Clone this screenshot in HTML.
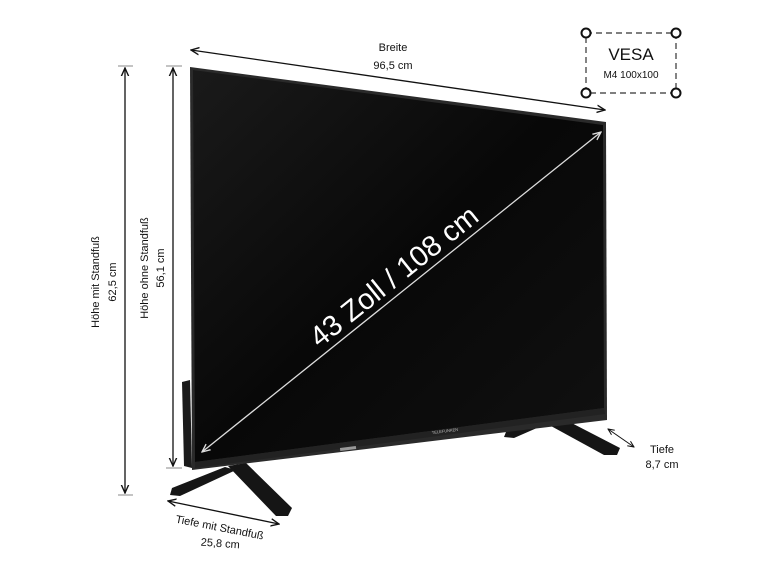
<!DOCTYPE html>
<html><head><meta charset="utf-8"><style>
html,body{margin:0;padding:0;background:#fff;width:772px;height:579px;overflow:hidden}
svg{display:block}
text{font-family:"Liberation Sans",sans-serif;fill:#111}
</style></head><body>
<svg width="772" height="579" viewBox="0 0 772 579" xmlns="http://www.w3.org/2000/svg">
<defs>
<marker id="a" viewBox="0 0 10 10" refX="9" refY="5" markerWidth="7" markerHeight="7" orient="auto-start-reverse"><path d="M0,1 L9,5 L0,9" fill="none" stroke="#111" stroke-width="1.5"/></marker>
<marker id="w" viewBox="0 0 10 10" refX="9" refY="5" markerWidth="7" markerHeight="7" orient="auto-start-reverse"><path d="M0,1 L9,5 L0,9" fill="none" stroke="#ddd" stroke-width="1.5"/></marker>
<linearGradient id="g" x1="0" y1="0" x2="1" y2="1"><stop offset="0" stop-color="#1a1a1a"/><stop offset="0.5" stop-color="#080808"/><stop offset="1" stop-color="#111"/></linearGradient>
</defs>
<!-- left back panel -->
<polygon points="182,382 190,380 192,468 184,466" fill="#1b1b1b"/>
<!-- stands -->
<polygon points="228,466 246,463 292,508 288,516 276,516" fill="#151515"/>
<polygon points="225,467 236,470 180,496 170,495 172,488" fill="#161616"/>
<polygon points="540,420 560,417 620,448 617,455 604,455" fill="#151515"/>
<polygon points="538,421 546,424 514,438 504,437 506,432" fill="#161616"/>
<!-- TV body -->
<polygon points="190,67 606,122 607,420 192,470" fill="#2a2a2a"/>
<polygon points="193,70 603,125 604,408 195,462" fill="url(#g)"/>
<polygon points="195,462 604,408 605,414 195,468" fill="#222"/>
<rect x="340" y="447" width="16" height="3" fill="#999" transform="rotate(-7 348 448)"/>
<text x="432" y="434" font-size="4" fill="#bbb" style="fill:#bbb" transform="rotate(-7 432 434)">TELEFUNKEN</text>
<!-- diagonal -->
<line x1="202" y1="452" x2="601" y2="132" stroke="#ddd" stroke-width="1.3" marker-start="url(#w)" marker-end="url(#w)"/>
<text x="400" y="284" font-size="29" text-anchor="middle" style="fill:#fff" transform="rotate(-38.7 400 284)">43 Zoll / 108 cm</text>
<!-- Breite -->
<line x1="191" y1="50" x2="605" y2="110" stroke="#111" stroke-width="1.3" marker-start="url(#a)" marker-end="url(#a)"/>
<text x="393" y="51" font-size="11" text-anchor="middle">Breite</text>
<text x="393" y="69" font-size="11" text-anchor="middle">96,5 cm</text>
<!-- heights -->
<line x1="118" y1="66" x2="133" y2="66" stroke="#888"/>
<line x1="118" y1="495" x2="133" y2="495" stroke="#888"/>
<line x1="125" y1="68" x2="125" y2="493" stroke="#111" stroke-width="1.3" marker-start="url(#a)" marker-end="url(#a)"/>
<line x1="166" y1="66" x2="182" y2="66" stroke="#888"/>
<line x1="166" y1="468" x2="182" y2="468" stroke="#888"/>
<line x1="173" y1="68" x2="173" y2="466" stroke="#111" stroke-width="1.3" marker-start="url(#a)" marker-end="url(#a)"/>
<text x="0" y="0" font-size="11" text-anchor="middle" transform="translate(99,282) rotate(-90)">Höhe mit Standfuß</text>
<text x="0" y="0" font-size="11" text-anchor="middle" transform="translate(116,282) rotate(-90)">62,5 cm</text>
<text x="0" y="0" font-size="11" text-anchor="middle" transform="translate(148,268) rotate(-90)">Höhe ohne Standfuß</text>
<text x="0" y="0" font-size="11" text-anchor="middle" transform="translate(164,268) rotate(-90)">56,1 cm</text>
<!-- Tiefe mit Standfuß -->
<line x1="168" y1="501" x2="279" y2="524" stroke="#111" stroke-width="1.3" marker-start="url(#a)" marker-end="url(#a)"/>
<text x="0" y="0" font-size="11" text-anchor="middle" transform="translate(219,531) rotate(11)">Tiefe mit Standfuß</text>
<text x="0" y="0" font-size="11" text-anchor="middle" transform="translate(220,547) rotate(4)">25,8 cm</text>
<!-- Tiefe -->
<line x1="608" y1="429" x2="634" y2="447" stroke="#111" stroke-width="1" marker-start="url(#a)" marker-end="url(#a)"/>
<text x="662" y="453" font-size="11" text-anchor="middle">Tiefe</text>
<text x="662" y="468" font-size="11" text-anchor="middle">8,7 cm</text>
<!-- VESA -->
<rect x="586" y="33" width="90" height="60" fill="none" stroke="#333" stroke-width="1.2" stroke-dasharray="6,4"/>
<circle cx="586" cy="33" r="4.5" fill="#fff" stroke="#111" stroke-width="2"/>
<circle cx="676" cy="33" r="4.5" fill="#fff" stroke="#111" stroke-width="2"/>
<circle cx="586" cy="93" r="4.5" fill="#fff" stroke="#111" stroke-width="2"/>
<circle cx="676" cy="93" r="4.5" fill="#fff" stroke="#111" stroke-width="2"/>
<text x="631" y="60" font-size="17" text-anchor="middle">VESA</text>
<text x="631" y="78" font-size="10" text-anchor="middle">M4 100x100</text>
</svg>
</body></html>
